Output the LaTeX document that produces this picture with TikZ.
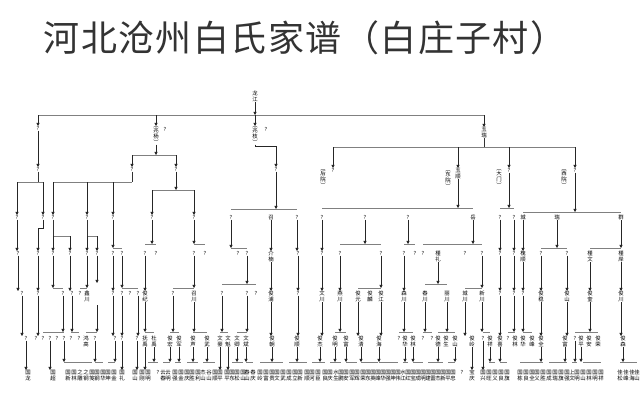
\documentclass[tikz,border=0pt]{standalone}
\usepackage{fontspec}
\newfontfamily\cjk{Noto Sans CJK SC}
\newfontfamily\cjkt[LetterSpace=4]{Noto Sans CJK SC}
\usetikzlibrary{arrows.meta}
\tikzset{
  lab/.style={font=\cjk\fontsize{5.4}{5.7}\selectfont, inner sep=0pt, align=center, anchor=north, text=black},
  arr/.style={draw=black!85, line width=0.65pt, -{Triangle[length=3.2pt,width=3.2pt]}},
  bus/.style={draw=black!50, line width=1pt},
  ln/.style={draw=black!80, line width=0.65pt},
  ttl/.style={font=\cjkt\fontsize{36}{36}\selectfont, inner sep=0pt, text=black!80}
}
\newcommand\VL[3]{\node[lab] (#1) at (#2) {#3};}
\newcommand\ArD[2]{\draw[arr] (#1.south) -- (#1.south |- #2.north);}
\newcommand\ArB[2]{\draw[arr] (#1.south) -- (#1.south |- 0,#2);}
\newcommand\LnB[2]{\draw[ln] (#1.south) -- (#1.south |- 0,#2);}
\newcommand\BusL[3]{\draw[bus] (#1 |- 0,#3) -- (#2 |- 0,#3);}
\newcommand\ArC[2]{\draw[arr] (#1 |- 0,#2) -- (#1.north);}
\begin{document}
\begin{tikzpicture}[x=1pt,y=-1pt]
\fill[white] (0,0) rectangle (640,400);
\useasboundingbox (0,0) rectangle (640,400);
\node[ttl] (title) at (305,38) {河北沧州白氏家谱（白庄子村）};
% level 0
\VL{root}{255,91}{龙\\江}
% level 1
\VL{a1}{38,126}{?}
\VL{a2}{156,126}{︵\\兆\\杨\\︶}
\VL{a2q}{165,127}{?}
\VL{a3}{255,126}{︵\\兆\\枝\\︶}
\VL{a3q}{266,127}{?}
\VL{a4}{484,127}{玉\\瑞}
% level 2
\VL{b1}{38,167}{?}
\VL{b2}{132,167}{?}
\VL{b3}{176,167}{?}
\VL{b4}{276,167}{?}
\VL{b5}{333,168}{?}
\VL{b5n}{323,169}{︵\\后\\院\\︶}
\VL{b6}{458,168}{玉\\顺}
\VL{b6n}{448,170}{︵\\东\\院\\︶}
\VL{b7}{509,168}{?}
\VL{b7n}{499,169}{︵\\大\\门\\︶}
\VL{b8}{575,168}{?}
\VL{b8n}{564,169}{︵\\西\\院\\︶}
% level 3
\VL{c1}{17,215}{?}
\VL{c2}{43,215}{?}
\VL{c3}{53,215}{?}
\VL{c4}{87,215}{?}
\VL{c5}{113,215}{?}
\VL{c6}{152,215}{?}
\VL{c7}{194,215}{?}
\VL{c8}{231,215}{?}
\VL{c9}{271,215}{召}
\VL{c10}{297,215}{?}
\VL{c11}{322,215}{?}
\VL{c12}{365,215}{?}
\VL{c13}{408,215}{?}
\VL{c14}{473,215}{岳}
\VL{c15}{500,215}{?}
\VL{c16}{514,215}{?}
\VL{c17}{523,215}{城}
\VL{c18}{557,215}{瑞}
\VL{c19}{621,215}{群}
% level 4
\VL{d1}{18,251}{?}
\VL{d2}{38,251}{?}
\VL{d3}{53,251}{?}
\VL{d4}{70,251}{?}
\VL{d5}{87,251}{?}
\VL{d6}{97,251}{?}
\VL{d7}{113,251}{?}
\VL{d8}{122,251}{?}
\VL{d9}{145,251}{?}
\VL{d10}{156,251}{?}
\VL{d11}{194,251}{?}
\VL{d12}{205,251}{?}
\VL{d13}{238,251}{?}
\VL{d14}{247,251}{?}
\VL{d15}{271,251}{介\\楠}
\VL{d16}{298,251}{?}
\VL{d17}{322,251}{?}
\VL{d18}{340,251}{?}
\VL{d19}{381,251}{?}
\VL{d20}{404,251}{?}
\VL{d21}{415,251}{?}
\VL{d22}{423,251}{?}
\VL{d23}{438,251}{槿\\礼}
\VL{d24}{465,251}{?}
\VL{d25}{482,251}{?}
\VL{d26}{500,251}{?}
\VL{d27}{514,251}{?}
\VL{d28}{523,251}{槐\\顺}
\VL{d29}{541,251}{?}
\VL{d30}{567,251}{?}
\VL{d31}{590,251}{槿\\文}
\VL{d32}{621,251}{槿\\岸}
% level 5
\VL{e1}{22,291}{?}
\VL{e2}{38,291}{?}
\VL{e3}{63,291}{?}
\VL{e4}{72,291}{?}
\VL{e5}{80,291}{?}
\VL{e6}{87,291}{鑫\\川}
\coordinate (e7) at (97,305);
\VL{e8}{113,291}{?}
\VL{e9}{122,291}{?}
\VL{e10}{130,291}{?}
\VL{e11}{138,291}{?}
\VL{e12}{145,291}{俊\\纪}
\VL{e13}{173,291}{?}
\VL{e14}{194,291}{召\\川}
\VL{e15}{222,291}{?}
\VL{e16}{247,291}{?}
\VL{e17}{256,291}{?}
\VL{e18}{271,291}{俊\\浦}
\VL{e19}{298,291}{?}
\VL{e20}{322,291}{文\\川}
\VL{e21}{340,291}{燕\\川}
\VL{e22}{358,291}{俊\\元}
\VL{e23}{370,291}{俊\\麟}
\VL{e24}{381,291}{俊\\江}
\VL{e25}{404,291}{森\\川}
\VL{e26}{425,291}{春\\川}
\VL{e27}{447,291}{丽\\川}
\VL{e28}{465,291}{城\\川}
\VL{e29}{482,291}{新\\川}
\VL{e30}{500,291}{?}
\VL{e31}{514,291}{?}
\VL{e32}{523,291}{?}
\VL{e33}{541,291}{俊\\稳}
\VL{e34}{567,291}{俊\\山}
\VL{e35}{590,291}{俊\\奎}
\VL{e36}{621,291}{俊\\川}
% level 6
\VL{f1}{26,336}{?}
\VL{f2}{36,336}{?}
\VL{f3}{43,336}{?}
\VL{f4}{50,336}{?}
\VL{f5}{57,336}{?}
\VL{f6}{64,336}{?}
\VL{f7}{71,336}{?}
\VL{f8}{79,336}{?}
\VL{f9}{86,336}{鸿\\高}
\VL{f10}{95,336}{?}
\VL{f11}{115,336}{?}
\VL{f12}{122,336}{?}
\VL{f13}{137,336}{?}
\VL{f14}{145,336}{抚\\禹}
\VL{f15}{154,336}{杜\\禹}
\VL{f16}{170,336}{俊\\宏}
\VL{f17}{179,336}{俊\\军}
\VL{f18}{193,336}{俊\\声}
\VL{f19}{207,336}{俊\\武}
\VL{f20}{220,336}{文\\豪}
\VL{f21}{228,336}{文\\魁}
\VL{f22}{237,336}{文\\卿}
\VL{f23}{246,336}{文\\斌}
\VL{f24}{272,336}{俊\\朝}
\VL{f25}{297,336}{俊\\顺}
\VL{f26}{320,336}{俊\\杰}
\VL{f27}{335,336}{俊\\明}
\VL{f28}{346,336}{俊\\富}
\VL{f29}{361,336}{俊\\清}
\VL{f30}{379,336}{俊\\海}
\VL{f31}{399,336}{?}
\VL{f32}{405,336}{俊\\华}
\VL{f33}{413,336}{俊\\林}
\VL{f34}{423,336}{?}
\VL{f35}{432,336}{?}
\VL{f36}{438,336}{俊\\德}
\VL{f37}{446,336}{俊\\生}
\VL{f38}{455,336}{俊\\山}
\VL{f39}{472,336}{俊\\岭}
\VL{f40}{483,336}{?}
\VL{f41}{490,336}{俊\\祥}
\VL{f42}{500,336}{俊\\喜}
\VL{f43}{508,336}{?}
\VL{f44}{515,336}{俊\\林}
\VL{f45}{523,336}{俊\\华}
\VL{f46}{532,336}{俊\\峰}
\VL{f47}{541,336}{俊\\全}
\VL{f48}{565,336}{俊\\富}
\VL{f49}{575,336}{?}
\VL{f50}{581,336}{俊\\平}
\VL{f51}{589,336}{俊\\安}
\VL{f52}{598,336}{俊\\荣}
\VL{f53}{623,336}{俊\\森}
% level 7
\foreach \x/\ca/\cb in {28/国/龙,53/国/超,68/国/新,74/国/林,80/之/雕,86/之/钢,92/国/笺,97/国/钢,103/国/华,108/国/坤,114/国/金,122/国/礼,135/国/山,142/国/刚,148/国/明,
163/云/春,168/云/明,175/国/强,181/国/金,187/国/庆,192/国/胜,198/国/利,203/杰/山,209/谷/山,215/国/顺,220/国/平,227/国/平,232/国/东,237/国/松,243/国/山,247/春/山,253/春/庆,260/国/岭,266/国/富,272/国/贵,277/国/文,283/国/武,289/国/成,295/国/立,300/国/新,307/国/顺,312/国/河,318/国/臣,325/国/良,
330/国/庆,336/水/生,341/国/鹏,346/国/安,352/国/军,357/国/辉,363/国/荣,368/国/东,373/国/英,378/国/峰,383/国/华,388/国/强,393/国/坤,398/国/伟,403/水/江,408/国/红,413/国/宝,418/国/成,423/国/明,428/国/建,433/国/雷,438/国/杰,443/国/新,448/国/平,453/国/忠,472/宝/庆,
483/国/兴,489/国/旺,495/国/义,501/国/良,507/国/旗,520/国/栋,526/国/良,532/国/全,537/国/义,543/国/胜,549/国/成,555/国/瑞,561/国/旗,567/国/强,572/上/文,577/国/明,583/国/山,589/国/林,595/国/明,601/国/祥,620/佳/松,626/佳/峰,632/佳/海,637/佳/山}
  {\node[lab] (g\x) at (\x,370) {\ca\\\cb};}
\VL{g158}{158,370}{?}
\VL{g462}{462,370}{?}
% ---------- connectors ----------
\ArB{root}{115}
\BusL{a1}{a4}{115}
\ArC{a1}{115} \ArC{a2}{115} \ArC{a3}{115} \ArC{a4}{115}
% L1 -> L2
\ArD{a1}{b1}
\ArB{a2}{155} \BusL{b2}{b3}{155} \ArC{b2}{155} \ArC{b3}{155}
\draw[arr] (a3.south) -- ++(0,2) -| (b4.north);
\LnB{a4}{147} \BusL{b5}{b8}{147}
\ArC{b5}{147} \ArC{b6}{147} \ArC{b7}{147} \ArC{b8}{147}
% L2 -> L3
\LnB{b1}{182} \BusL{c1}{c2}{182} \ArC{c1}{182} \ArC{c2}{182}
\LnB{b2}{182} \BusL{c3}{b2}{182} \ArC{c3}{182} \ArC{c4}{182} \ArC{c5}{182}
\ArB{b3}{190} \BusL{c6}{c7}{190} \ArC{c6}{190} \ArC{c7}{190}
\ArB{b4}{209} \BusL{c8}{c10}{209}
\ArB{b6}{208} \BusL{c11}{c14}{208}
\ArB{b7}{208} \BusL{c15}{c16}{208}
\ArB{b8}{212} \BusL{c17}{c19}{212}
% L3 -> L4
\ArD{c1}{d1}
\draw[arr] (c2.south) -- ++(0,9) -| (d2.north);
\LnB{c3}{236} \BusL{c3}{d4}{236} \ArC{d3}{236} \ArC{d4}{236}
\LnB{c4}{236} \BusL{d5}{d6}{236} \ArC{d5}{236} \ArC{d6}{236}
\ArB{c5}{248} \BusL{d7}{d8}{248}
\ArB{c6}{244} \BusL{d9}{d10}{244}
\ArB{c7}{244} \BusL{c7}{d12}{244}
\ArB{c8}{248} \BusL{c8}{d14}{248}
\ArD{c9}{d15} \ArD{c10}{d16} \ArD{c11}{d17}
\ArB{c12}{244} \BusL{d18}{d19}{244}
\ArB{c13}{244} \BusL{d20}{d21}{244}
\ArB{c14}{244} \BusL{d22}{d25}{244}
\ArD{c15}{d26} \ArD{c16}{d27} \ArD{c17}{d28}
\ArB{c18}{248} \BusL{d29}{d30}{248}
\ArB{c19}{248} \BusL{d31}{d32}{248}
% L4 -> L5
\ArD{d1}{e1} \ArD{d2}{e2}
\ArB{d3}{288} \BusL{d3}{e3}{288}
\ArD{d4}{e4}
\ArB{d5}{288} \BusL{e5}{e6}{288}
\draw[arr] (d6.south) -- (d6.south |- 0,283);
\ArD{d7}{e8}
\ArB{d8}{288} \BusL{e9}{e11}{288}
\ArD{d9}{e12}
\ArB{d11}{288} \BusL{e13}{e14}{288}
\ArB{d14}{284} \BusL{e15}{e17}{284}
\ArD{d15}{e18} \ArD{d16}{e19} \ArD{d17}{e20} \ArD{d18}{e21}
\ArB{d19}{288} \BusL{e22}{e24}{288}
\ArD{d20}{e25}
\ArB{d23}{284} \BusL{e26}{e27}{284}
\ArB{d25}{288} \BusL{e28}{e29}{288}
\ArD{d26}{e30} \ArD{d27}{e31} \ArD{d28}{e32} \ArD{d29}{e33}
\ArD{d30}{e34} \ArD{d31}{e35} \ArD{d32}{e36}
% L5 -> L6
\ArD{e1}{f1} \ArD{e2}{f2}
\ArB{e3}{332} \BusL{f3}{f6}{332}
\ArB{e4}{332} \BusL{f7}{f8}{332}
\draw[arr] (e7) -- (e7 |- 0,332); \BusL{f9}{e7}{332}
\ArD{e8}{f11} \ArD{e9}{f12} \ArD{e11}{f13}
\ArB{e12}{332} \BusL{f14}{f15}{332}
\ArB{e13}{332} \BusL{f16}{f17}{332}
\ArB{e14}{332} \BusL{f18}{f19}{332}
\ArB{e15}{332} \BusL{f20}{f21}{332}
\ArB{e16}{332} \BusL{f22}{e16}{332}
\ArD{e18}{f24} \ArD{e19}{f25} \ArD{e20}{f26}
\ArB{e21}{332} \BusL{f27}{f28}{332}
\ArD{e22}{f29} \ArD{e24}{f30}
\ArB{e25}{332} \BusL{f31}{f33}{332}
\ArB{e26}{332} \BusL{f34}{f35}{332}
\ArB{e27}{332} \BusL{f36}{f38}{332}
\ArD{e28}{f39}
\ArB{e29}{332} \BusL{f40}{f41}{332}
\ArD{e30}{f42}
\ArB{e31}{332} \BusL{f43}{f44}{332}
\ArB{e32}{332} \BusL{f45}{f46}{332}
\ArD{e33}{f47} \ArD{e34}{f48}
\ArB{e35}{332} \BusL{f49}{f52}{332}
\ArD{e36}{f53}
% L6 -> L7
\ArD{f1}{g28} \ArD{f4}{g53}
\ArB{f6}{362} \BusL{f6}{g92}{362}
\ArB{f10}{362} \BusL{f10}{g103}{362}
\ArB{f11}{362} \BusL{g108}{f11}{362}
\ArD{f12}{g122} \ArD{f13}{g135} \ArD{f14}{g142}
\ArB{f15}{362} \BusL{g148}{g158}{362}
\ArB{f16}{362} \BusL{g163}{f16}{362}
\ArB{f17}{362} \BusL{g175}{g181}{362}
\ArB{f18}{362} \BusL{g187}{g198}{362}
\ArB{f19}{362} \BusL{g203}{g215}{362}
\ArD{f20}{g220} \ArD{f21}{g227}
\ArB{f22}{362} \BusL{g232}{g243}{362}
\ArB{f23}{362} \BusL{f23}{g253}{362}
\ArB{f24}{362} \BusL{g260}{g283}{362}
\ArB{f25}{362} \BusL{g289}{g307}{362}
\ArB{f26}{362} \BusL{g312}{g325}{362}
\ArB{f27}{362} \BusL{g330}{g341}{362}
\ArB{f28}{362} \BusL{g346}{g357}{362}
\ArB{f29}{362} \BusL{f29}{g378}{362}
\ArB{f30}{362} \BusL{f30}{g398}{362}
\ArB{f32}{362} \BusL{g403}{g408}{362}
\ArB{f33}{362} \BusL{f33}{g423}{362}
\ArB{f36}{362} \BusL{g428}{g443}{362}
\ArB{f38}{362} \BusL{g448}{f38}{362}
\ArD{f39}{g472} \ArD{f40}{g483}
\ArB{f41}{362} \BusL{g489}{g495}{362}
\ArB{f42}{362} \BusL{f42}{g507}{362}
\ArB{f47}{362} \BusL{g520}{g543}{362}
\ArB{f48}{362} \BusL{g549}{g567}{362}
\ArB{f49}{362} \BusL{g572}{g577}{362}
\ArB{f50}{362} \BusL{g583}{g601}{362}
\ArB{f53}{362} \BusL{g620}{g637}{362}
\end{tikzpicture}
\end{document}
